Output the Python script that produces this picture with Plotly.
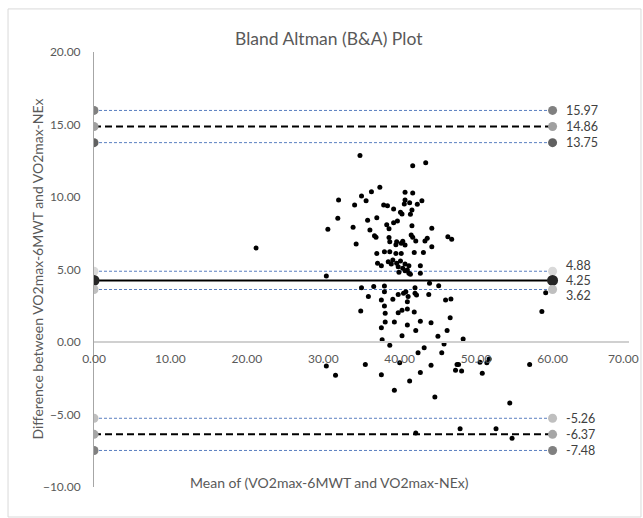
import plotly.graph_objects as go

# ---- data ----
mean_vals = [34.8, 41.7, 43.4, 37.4, 36.3, 35.0, 32.0, 35.6, 34.1, 40.7, 41.7, 40.7, 41.3, 40.6, 42.9, 42.3,
             37.9, 38.4, 39.2, 41.6, 40.1, 40.3, 41.4, 31.9, 37.0, 35.8, 39.7, 39.2, 38.3, 41.6, 30.6, 33.9,
             36.1, 38.6, 44.2, 46.3, 46.8, 36.7, 36.9, 41.5, 41.7, 43.6, 34.3, 38.6, 38.7, 39.6, 40.2, 44.2,
             39.5, 40.4, 40.7, 42.1, 43.3,
             37.0, 38.0, 38.7, 39.5, 40.2, 41.9, 43.1,
             37.1, 37.6, 38.5, 38.9, 39.1, 39.6, 40.1, 40.7, 41.2, 39.8, 40.4, 41.0, 39.9, 40.7, 41.2, 41.4, 42.7, 42.7,
             30.4, 21.2,
             35.0, 36.6, 38.0, 38.0, 42.0, 42.0, 42.2, 40.8, 40.5, 41.1, 39.8, 43.9, 45.1, 43.8, 35.9, 37.6, 39.1, 41.0, 46.0, 46.7,
             34.9, 38.0, 38.1, 39.8, 40.3, 41.0, 41.9, 46.6, 38.1, 39.3, 41.0, 42.7, 44.1, 37.6,
             42.1, 46.2, 40.3, 45.0, 37.7, 48.3, 38.7, 45.8, 43.2, 42.4, 45.5,
             30.4, 35.5, 40.0, 44.1, 47.5, 47.7, 47.3, 48.1, 50.5, 51.4, 51.7, 50.8, 57.0, 31.6, 37.6, 42.7, 41.3,
             39.3, 44.6, 54.4, 42.1, 47.9, 52.6, 54.7,
             59.1, 58.6]
diff_vals = [12.87, 12.16, 12.37, 10.67, 10.37, 10.07, 9.79, 9.75, 9.45, 10.32, 10.28, 9.79, 9.61, 9.52, 9.75, 9.50,
             9.45, 9.40, 9.17, 9.10, 8.94, 8.83, 8.81, 8.53, 8.57, 8.39, 8.34, 8.23, 8.09, 8.02, 7.77, 7.91,
             7.72, 7.81, 7.84, 7.26, 7.08, 7.33, 7.22, 7.38, 7.22, 7.15, 6.76, 7.20, 6.92, 6.92, 6.81, 6.57,
             6.70, 6.95, 6.69, 6.97, 6.97,
             6.11, 6.23, 6.23, 6.11, 6.11, 6.18, 6.18,
             5.43, 5.26, 5.54, 5.38, 5.66, 5.43, 5.59, 5.38, 5.26, 5.19, 5.08, 4.97, 4.81, 4.92, 4.74, 4.67, 5.26, 4.74,
             4.55, 6.48,
             3.74, 3.82, 3.86, 3.47, 3.74, 3.36, 3.24, 3.47, 3.36, 3.13, 3.28, 4.05, 3.88, 3.28, 3.13, 2.90, 2.94, 2.78, 2.90, 2.97,
             2.14, 2.48, 1.98, 2.02, 2.19, 2.28, 2.07, 1.68, 1.38, 1.38, 1.17, 1.43, 1.33, 0.99,
             0.80, 0.80, 0.43, 0.39, 0.16, 0.21, -0.23, -0.14, -0.39, -0.74, -0.74,
             -1.66, -1.56, -1.43, -1.61, -1.56, -1.56, -1.95, -2.00, -1.40, -1.43, -1.17, -2.16, -1.56, -2.30, -2.25, -2.11, -2.69,
             -3.33, -3.79, -4.21, -6.28, -5.98, -5.98, -6.64,
             3.40, 2.10]

limit_values = [15.97, 14.86, 13.75, 4.88, 4.25, 3.62, -5.26, -6.37, -7.48]
limit_labels = ["15.97", "14.86", "13.75", "4.88", "4.25", "3.62", "-5.26", "-6.37", "-7.48"]
limit_x = [0, 60]

x_ticks = [0, 10, 20, 30, 40, 50, 60, 70]
y_ticks = [-10, -5, 0, 5, 10, 15, 20]

# ---- styles ----
BLUE = "#5a7fc0"
styles = [
    dict(color=BLUE, width=1, dash="3px,2px", mcolor="#808080", msize=9),
    dict(color="#000000", width=2, dash="7px,4px", mcolor="#a0a0a0", msize=9),
    dict(color=BLUE, width=1, dash="3px,2px", mcolor="#606060", msize=9),
    dict(color=BLUE, width=1, dash="3px,2px", mcolor="#d9d9d9", msize=9),
    dict(color="#000000", width=2, dash="solid", mcolor="#262626", msize=11),
    dict(color=BLUE, width=1, dash="3px,2px", mcolor="#bfbfbf", msize=9),
    dict(color=BLUE, width=1, dash="3px,2px", mcolor="#bfbfbf", msize=9),
    dict(color="#000000", width=2, dash="7px,4px", mcolor="#a6a6a6", msize=9),
    dict(color=BLUE, width=1, dash="3px,2px", mcolor="#808080", msize=9),
]
label_shift = [0, 0, 0, 6, 0, -6, 0, 0, 0]

FONT = "Lato, 'Open Sans', sans-serif"
GRAY = "#595959"

fig = go.Figure()

for v, s in zip(limit_values, styles):
    fig.add_trace(go.Scatter(
        x=limit_x, y=[v, v], mode="lines+markers",
        line=dict(color=s["color"], width=s["width"], dash=s["dash"]),
        marker=dict(color=s["mcolor"], size=s["msize"]),
        hoverinfo="skip", showlegend=False,
    ))

fig.add_trace(go.Scatter(
    x=mean_vals, y=diff_vals, mode="markers",
    marker=dict(color="#000000", size=5),
    showlegend=False,
))

annotations = []
for v, lab, ys in zip(limit_values, limit_labels, label_shift):
    annotations.append(dict(
        x=limit_x[1], y=v, xref="x", yref="y", text=lab, showarrow=False,
        xanchor="left", yanchor="middle", xshift=11, yshift=ys,
        font=dict(family=FONT, size=12.5, color="#404040"),
    ))

# last x tick label, nudged so it stays inside the page
annotations.append(dict(
    x=x_ticks[-1], y=0, xref="x", yref="y", text=f"{x_ticks[-1]:.2f}", showarrow=False,
    xanchor="right", yanchor="top", yshift=-7, xshift=12,
    font=dict(family=FONT, size=12, color=GRAY),
))

annotations.append(dict(
    x=0.44, y=1.03, xref="paper", yref="paper", text="Bland Altman (B&A) Plot",
    showarrow=False, xanchor="center", yanchor="middle",
    font=dict(family=FONT, size=17.5, color=GRAY),
))
annotations.append(dict(
    x=0.44, y=0.01, xref="paper", yref="paper", text="Mean of (VO2max-6MWT and VO2max-NEx)",
    showarrow=False, xanchor="center", yanchor="middle",
    font=dict(family=FONT, size=14, color=GRAY),
))
annotations.append(dict(
    x=-0.1065, y=0.5, xref="paper", yref="paper",
    text="Difference between VO2max-6MWT and VO2max-NEx",
    showarrow=False, xanchor="center", yanchor="middle", textangle=-90,
    font=dict(family=FONT, size=14, color=GRAY),
))

fig.update_layout(
    width=643, height=518,
    margin=dict(l=94, r=14, t=52, b=31),
    paper_bgcolor="white", plot_bgcolor="white",
    font=dict(family=FONT, size=12, color=GRAY),
    annotations=annotations,
    shapes=[dict(type="rect", xref="paper", yref="paper",
                 x0=-0.1607, x1=1.0224, y0=-0.069, y1=1.099,
                 line=dict(color="#d9d9d9", width=1), fillcolor="rgba(0,0,0,0)", layer="below")],
    xaxis=dict(range=[0, 70], tickvals=x_ticks[:-1], tickformat=".2f",
               showgrid=False, zeroline=False, showline=True, linecolor="#d0d0d0", linewidth=1.5,
               anchor="free", position=1/3, ticks="", ticklabelstandoff=6,
               tickfont=dict(family=FONT, size=12, color=GRAY)),
    yaxis=dict(range=[-10, 20], tickvals=y_ticks, tickformat=".2f",
               showgrid=False, zeroline=False, showline=True, linecolor="#a6a6a6", linewidth=1,
               ticks="", ticklabelstandoff=10,
               tickfont=dict(family=FONT, size=12, color=GRAY)),
)

fig.write_html("out.html", post_script="document.body.style.margin='0';",
               config={"displayModeBar": False})
